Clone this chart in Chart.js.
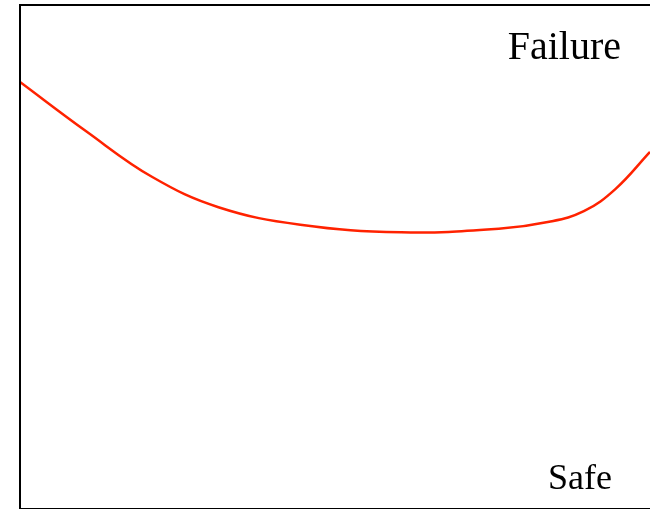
<!DOCTYPE html>
<html>
<head>
<meta charset="utf-8">
<script src="https://cdn.jsdelivr.net/npm/chart.js@4"></script>
<style>
  html, body { margin: 0; padding: 0; background: #fff; overflow: hidden; }
  #wrap { position: relative; width: 650px; height: 509px; }
</style>
</head>
<body>
<div id="wrap"><canvas id="risk"></canvas></div>
<script>
// position along the horizontal axis (0-100) and level of the curve (0 = bottom, 100 = top)
var positions = [0, 10.5, 21, 31.5, 44.5, 60.5, 76, 84, 89.5, 94.5, 100];
var levels = [84.7, 74.9, 65.8, 59.8, 56.3, 54.8, 55.5, 56.9, 59.0, 63.4, 70.8];
var topLabel = "Failure";
var bottomLabel = "Safe";

var points = positions.map(function (x, i) {
  return { x: x, y: levels[i] };
});

// frame on left, top and bottom, plus the two zone labels
var framePlugin = {
  id: "frame",
  afterDraw: function (chart) {
    var c = chart.ctx;
    var a = chart.chartArea;
    c.save();
    c.strokeStyle = "#000";
    c.lineWidth = 2;
    c.beginPath();
    c.moveTo(a.right + 2, a.top);
    c.lineTo(a.left, a.top);
    c.lineTo(a.left, a.bottom + 1);
    c.lineTo(a.right + 2, a.bottom + 1);
    c.stroke();

    c.fillStyle = "#000";
    c.textAlign = "right";
    c.textBaseline = "alphabetic";
    c.font = "40px 'Liberation Serif', serif";
    c.fillText(topLabel, 621, 59);
    c.font = "36px 'Liberation Serif', serif";
    c.fillText(bottomLabel, 612, 489);
    c.restore();
  }
};

new Chart(document.getElementById("risk"), {
  type: "line",
  data: {
    datasets: [
      {
        data: points,
        borderColor: "#ff2200",
        borderWidth: 2.5,
        pointRadius: 0,
        tension: 0.4,
        fill: false
      }
    ]
  },
  options: {
    responsive: true,
    maintainAspectRatio: false,
    animation: false,
    layout: { padding: { left: 20, top: 5, right: 0, bottom: 1 } },
    plugins: {
      legend: { display: false },
      tooltip: { enabled: false }
    },
    scales: {
      x: { type: "linear", min: 0, max: 100, display: false },
      y: { min: 0, max: 100, display: false }
    }
  },
  plugins: [framePlugin]
});
</script>
</body>
</html>
